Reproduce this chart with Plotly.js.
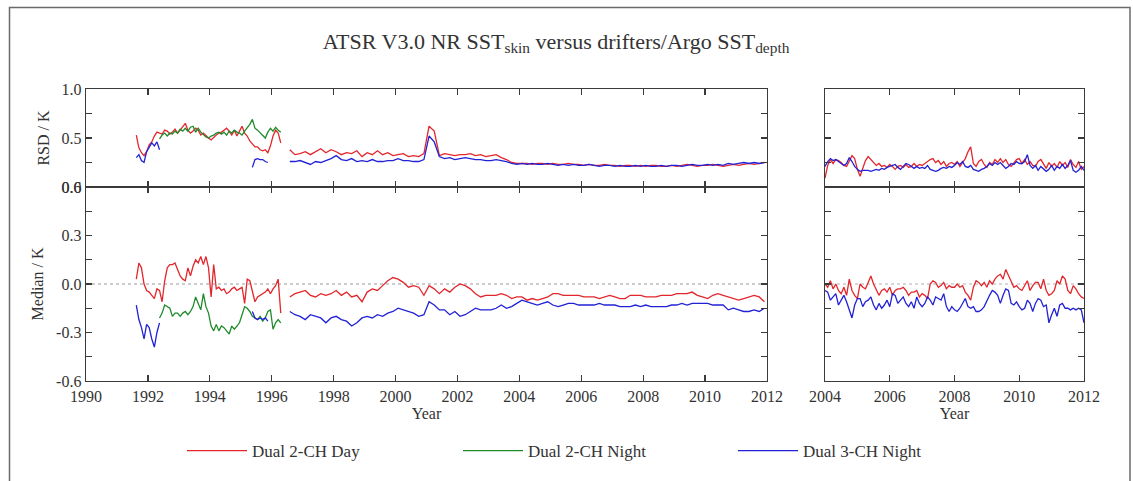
<!DOCTYPE html>
<html>
<head>
<meta charset="utf-8">
<script src="https://cdn.plot.ly/plotly-3.0.1.min.js"></script>
<style>html,body{margin:0;padding:0;background:#fff;}#chart{width:1133px;height:481px;}</style>
</head>
<body>
<div id="chart"></div>
<script>
// ---------- DATA (decimal years; values in K) ----------
// ATSR-1 era: monthly values
const atsr1Start = 1991.625;
const greenStart = 1992.375;
const blue1bStart = 1995.375;
// ATSR-2 era (left panels): bimonthly values
const atsr2Start = 1996.583;
// Right panels (2004-2012): monthly values
const rightStart = 2004.0;

const seriesNames = ["Dual 2-CH Day", "Dual 2-CH Night", "Dual 3-CH Night"];

// RSD, ATSR-1 era
const redRsdA1 = [0.53,0.40,0.35,0.32,0.36,0.43,0.46,0.52,0.56,0.55,
  0.54,0.58,0.57,0.54,0.56,0.59,0.55,0.58,0.62,0.65,
  0.58,0.55,0.57,0.60,0.58,0.53,0.55,0.52,0.50,0.48,
  0.51,0.53,0.55,0.56,0.58,0.60,0.57,0.53,0.58,0.52,
  0.57,0.62,0.55,0.52,0.47,0.44,0.41,0.41,0.38,0.37,
  0.38,0.35,0.42,0.52,0.58,0.55,0.45];
const greenRsd = [0.49,0.53,0.55,0.52,0.55,0.54,0.57,0.55,0.59,0.57,
  0.60,0.57,0.61,0.62,0.56,0.60,0.56,0.53,0.51,0.50,
  0.52,0.53,0.55,0.56,0.54,0.56,0.53,0.57,0.55,0.58,
  0.56,0.55,0.53,0.57,0.60,0.64,0.69,0.60,0.58,0.55,
  0.53,0.50,0.56,0.60,0.57,0.61,0.58,0.56];
const blueRsdA1a = [0.30,0.33,0.27,0.25,0.36,0.40,0.45,0.42,0.46,0.38];
const blueRsdA1b = [0.20,0.28,0.29,0.28,0.28,0.26,0.25];

// Median, ATSR-1 era
const redMedA1 = [0.03,0.13,0.10,0.00,-0.04,-0.05,-0.07,-0.09,-0.03,-0.04,
  -0.11,0.02,0.10,0.12,0.12,0.13,0.09,0.05,0.03,0.02,
  0.10,0.05,0.11,0.15,0.13,0.17,0.12,0.17,0.10,-0.08,
  0.12,-0.03,-0.02,-0.04,-0.03,-0.06,-0.05,-0.03,-0.02,-0.04,
  -0.03,-0.02,-0.12,0.03,0.02,-0.04,-0.11,-0.08,-0.07,-0.06,
  -0.05,-0.03,-0.06,-0.03,-0.01,0.03,-0.18];
const greenMed = [-0.21,-0.18,-0.13,-0.14,-0.15,-0.20,-0.18,-0.18,-0.20,-0.18,
  -0.17,-0.19,-0.17,-0.14,-0.08,-0.12,-0.16,-0.06,-0.14,-0.18,
  -0.26,-0.29,-0.25,-0.29,-0.26,-0.27,-0.29,-0.31,-0.26,-0.28,
  -0.26,-0.24,-0.19,-0.14,-0.15,-0.17,-0.20,-0.21,-0.22,-0.20,
  -0.23,-0.21,-0.17,-0.16,-0.28,-0.24,-0.22,-0.24];
const blueMedA1a = [-0.13,-0.22,-0.27,-0.34,-0.25,-0.27,-0.34,-0.39,-0.30,-0.24];
const blueMedA1b = [-0.17,-0.21,-0.22,-0.21,-0.22,-0.21,-0.23];

// RSD, ATSR-2/AATSR era (left panel)
const redRsdA2 = [0.38,0.33,0.34,0.36,0.33,0.36,0.39,0.35,0.38,0.36,
  0.33,0.35,0.34,0.37,0.31,0.35,0.33,0.37,0.33,0.35,
  0.32,0.33,0.34,0.31,0.32,0.31,0.34,0.62,0.57,0.32,
  0.34,0.33,0.32,0.33,0.33,0.34,0.32,0.33,0.31,0.32,
  0.33,0.30,0.28,0.25,0.24,0.24,0.24,0.23,0.24,0.24,
  0.23,0.24,0.23,0.23,0.24,0.23,0.23,0.22,0.23,0.22,
  0.22,0.23,0.22,0.22,0.21,0.22,0.22,0.21,0.22,0.21,
  0.22,0.22,0.21,0.21,0.22,0.21,0.22,0.23,0.22,0.21,
  0.22,0.22,0.23,0.22,0.21,0.22,0.23,0.22,0.23,0.24,
  0.23,0.24,0.25];
const blueRsdA2 = [0.26,0.26,0.27,0.25,0.23,0.26,0.25,0.27,0.29,0.32,
  0.28,0.27,0.29,0.26,0.27,0.26,0.28,0.26,0.26,0.27,
  0.27,0.29,0.27,0.27,0.26,0.26,0.28,0.52,0.46,0.31,
  0.29,0.30,0.28,0.29,0.30,0.29,0.28,0.28,0.27,0.27,
  0.28,0.27,0.26,0.24,0.23,0.24,0.23,0.24,0.23,0.23,
  0.24,0.23,0.22,0.23,0.22,0.23,0.22,0.22,0.23,0.22,
  0.21,0.22,0.22,0.21,0.22,0.21,0.21,0.22,0.21,0.22,
  0.21,0.21,0.22,0.21,0.22,0.22,0.21,0.22,0.23,0.22,
  0.22,0.23,0.22,0.23,0.22,0.24,0.23,0.24,0.25,0.24,
  0.25,0.24,0.25];

// Median, ATSR-2/AATSR era (left panel)
const redMedA2 = [-0.08,-0.06,-0.05,-0.04,-0.07,-0.08,-0.06,-0.07,-0.06,-0.04,
  -0.07,-0.05,-0.08,-0.07,-0.11,-0.05,-0.03,-0.04,-0.01,0.02,
  0.04,0.03,0.01,-0.02,-0.01,-0.02,-0.07,-0.01,-0.03,-0.06,
  -0.03,-0.05,-0.02,0.00,-0.01,-0.03,-0.06,-0.08,-0.07,-0.07,
  -0.07,-0.06,-0.07,-0.09,-0.08,-0.08,-0.10,-0.09,-0.10,-0.09,
  -0.08,-0.06,-0.06,-0.07,-0.07,-0.07,-0.07,-0.08,-0.08,-0.08,
  -0.09,-0.08,-0.07,-0.08,-0.09,-0.09,-0.07,-0.07,-0.07,-0.08,
  -0.08,-0.08,-0.07,-0.07,-0.07,-0.06,-0.06,-0.06,-0.05,-0.07,
  -0.08,-0.09,-0.07,-0.06,-0.07,-0.08,-0.09,-0.10,-0.09,-0.08,
  -0.07,-0.08,-0.11];
const blueMedA2 = [-0.17,-0.19,-0.20,-0.22,-0.19,-0.20,-0.21,-0.24,-0.21,-0.20,
  -0.22,-0.23,-0.26,-0.24,-0.21,-0.20,-0.21,-0.19,-0.20,-0.18,
  -0.17,-0.15,-0.16,-0.17,-0.18,-0.20,-0.19,-0.11,-0.13,-0.16,
  -0.16,-0.19,-0.17,-0.20,-0.19,-0.17,-0.15,-0.16,-0.16,-0.16,
  -0.15,-0.13,-0.15,-0.14,-0.12,-0.10,-0.11,-0.12,-0.13,-0.12,
  -0.11,-0.13,-0.14,-0.13,-0.12,-0.12,-0.13,-0.13,-0.13,-0.13,
  -0.12,-0.13,-0.13,-0.13,-0.14,-0.14,-0.14,-0.13,-0.14,-0.13,
  -0.14,-0.14,-0.14,-0.14,-0.13,-0.13,-0.12,-0.13,-0.12,-0.12,
  -0.12,-0.12,-0.13,-0.13,-0.13,-0.16,-0.15,-0.16,-0.17,-0.17,
  -0.16,-0.17,-0.15];

// Right panels, 2004-2012 monthly
const redRsdR = [0.09,0.22,0.28,0.24,0.28,0.27,0.25,0.22,0.21,0.27,
  0.32,0.29,0.18,0.11,0.20,0.27,0.31,0.28,0.24,0.22,
  0.24,0.21,0.22,0.20,0.23,0.21,0.18,0.21,0.22,0.20,
  0.23,0.20,0.21,0.24,0.21,0.23,0.22,0.24,0.26,0.28,
  0.29,0.25,0.27,0.23,0.26,0.21,0.24,0.25,0.23,0.26,
  0.21,0.25,0.29,0.36,0.41,0.24,0.21,0.26,0.28,0.23,
  0.20,0.25,0.23,0.28,0.25,0.29,0.25,0.28,0.23,0.21,
  0.25,0.28,0.29,0.24,0.28,0.23,0.26,0.22,0.21,0.26,
  0.28,0.23,0.19,0.25,0.21,0.24,0.20,0.26,0.22,0.25,
  0.20,0.28,0.23,0.20,0.26,0.18,0.21];
const blueRsdR = [0.21,0.26,0.29,0.27,0.28,0.26,0.24,0.22,0.24,0.30,
  0.26,0.21,0.18,0.16,0.17,0.17,0.17,0.16,0.17,0.18,
  0.17,0.19,0.18,0.20,0.21,0.22,0.23,0.20,0.18,0.21,
  0.24,0.23,0.21,0.19,0.21,0.19,0.20,0.19,0.22,0.18,
  0.17,0.16,0.17,0.19,0.20,0.19,0.21,0.20,0.22,0.25,
  0.23,0.26,0.21,0.20,0.22,0.18,0.17,0.16,0.18,0.19,
  0.21,0.24,0.22,0.25,0.23,0.25,0.22,0.19,0.21,0.24,
  0.23,0.26,0.24,0.24,0.26,0.33,0.22,0.19,0.22,0.17,
  0.21,0.18,0.16,0.18,0.22,0.17,0.21,0.19,0.23,0.19,
  0.22,0.27,0.17,0.15,0.17,0.21,0.17];
const redMedR = [0.00,-0.02,0.02,-0.03,0.00,-0.04,-0.06,-0.02,-0.07,0.03,
  -0.04,-0.07,-0.09,0.00,-0.02,-0.03,0.01,0.05,0.00,-0.04,
  -0.07,-0.04,-0.03,-0.05,-0.02,-0.07,-0.04,-0.03,-0.03,-0.02,
  -0.04,-0.07,-0.05,-0.05,-0.04,-0.08,-0.06,-0.07,-0.09,0.00,
  0.02,0.01,-0.02,-0.01,0.01,-0.03,-0.01,-0.02,-0.02,0.00,
  -0.02,-0.01,-0.05,-0.07,-0.10,-0.02,0.02,0.01,-0.01,0.01,
  -0.02,0.02,0.00,0.03,0.05,0.06,0.03,0.09,0.05,0.01,
  -0.02,-0.01,-0.03,-0.04,-0.01,0.02,-0.04,-0.01,0.01,0.01,
  -0.03,0.03,-0.04,-0.07,-0.06,-0.04,0.02,0.00,0.05,0.03,
  -0.04,-0.06,-0.01,-0.03,-0.06,-0.08,-0.09];
const blueMedR = [-0.04,-0.05,-0.10,-0.08,-0.06,-0.13,-0.10,-0.07,-0.11,-0.16,
  -0.21,-0.13,-0.09,-0.09,-0.14,-0.11,-0.10,-0.08,-0.13,-0.16,
  -0.12,-0.15,-0.13,-0.10,-0.14,-0.06,-0.07,-0.12,-0.10,-0.08,
  -0.12,-0.14,-0.11,-0.15,-0.08,-0.12,-0.14,-0.12,-0.08,-0.10,
  -0.13,-0.08,-0.09,-0.10,-0.06,-0.14,-0.17,-0.14,-0.16,-0.17,
  -0.15,-0.12,-0.09,-0.14,-0.15,-0.14,-0.17,-0.17,-0.16,-0.14,
  -0.10,-0.07,-0.04,-0.05,-0.07,-0.12,-0.07,-0.03,-0.04,-0.12,
  -0.13,-0.11,-0.14,-0.16,-0.15,-0.10,-0.12,-0.17,-0.12,-0.09,
  -0.10,-0.14,-0.13,-0.24,-0.19,-0.15,-0.20,-0.13,-0.12,-0.15,
  -0.15,-0.16,-0.15,-0.16,-0.15,-0.16,-0.24];

// Tick labels
const leftYearTicks = [1990,1992,1994,1996,1998,2000,2002,2004,2006,2008,2010,2012];
const rightYearTicks = [2004,2006,2008,2010,2012];
const rsdTickVals = [0,0.25,0.5,0.75,1.0];
const rsdTickText = ["0.0","","0.5","","1.0"];
const medTickVals = [-0.6,-0.45,-0.3,-0.15,0,0.15,0.3,0.45,0.6];
const medTickText = ["-0.6","","-0.3","","0.0","","0.3","","0.6"];

// ---------- BUILD ----------
function build(segments){
  const x=[], y=[];
  segments.forEach((s,si)=>{
    const start=s[0], stepMonths=s[1], vals=s[2];
    if(si>0){ x.push(null); y.push(null); }
    vals.forEach((v,i)=>{ x.push(+(start + i*stepMonths/12).toFixed(4)); y.push(v); });
  });
  return {x,y};
}
const RED='#e3262b', GREEN='#1f8a2a', BLUE='#2121d6';
const LW=1.3;
function tr(d, color, xa, ya, name, legend){
  return {type:'scatter', mode:'lines', x:d.x, y:d.y, xaxis:xa, yaxis:ya,
    line:{color:color, width:LW}, connectgaps:false, name:name,
    showlegend:!!legend, legend:legend||'legend', hoverinfo:'skip'};
}
const traces = [
  // top-left RSD
  tr(build([[atsr1Start,1,redRsdA1],[atsr2Start,2,redRsdA2]]), RED,'x2','y2'),
  tr(build([[greenStart,1,greenRsd]]), GREEN,'x2','y2'),
  tr(build([[atsr1Start,1,blueRsdA1a],[blue1bStart,1,blueRsdA1b],[atsr2Start,2,blueRsdA2]]), BLUE,'x2','y2'),
  // bottom-left median
  tr(build([[atsr1Start,1,redMedA1],[atsr2Start,2,redMedA2]]), RED,'x','y', seriesNames[0],'legend'),
  tr(build([[greenStart,1,greenMed]]), GREEN,'x','y', seriesNames[1],'legend2'),
  tr(build([[atsr1Start,1,blueMedA1a],[blue1bStart,1,blueMedA1b],[atsr2Start,2,blueMedA2]]), BLUE,'x','y', seriesNames[2],'legend3'),
  // top-right RSD
  tr(build([[rightStart,1,redRsdR]]), RED,'x4','y4'),
  tr(build([[rightStart,1,blueRsdR]]), BLUE,'x4','y4'),
  // bottom-right median
  tr(build([[rightStart,1,redMedR]]), RED,'x3','y3'),
  tr(build([[rightStart,1,blueMedR]]), BLUE,'x3','y3'),
];

// ---------- LAYOUT ----------
const FONT='Liberation Serif, Times New Roman, serif';
const AX='#3a3a3a';
const base = {showline:true, linecolor:AX, linewidth:1.4, mirror:'allticks', ticks:'inside',
  ticklen:6, tickwidth:1.2, tickcolor:AX, showgrid:false, zeroline:false,
  tickfont:{family:FONT, size:16, color:'#333'}, fixedrange:true};
const L=[86,767], R=[825,1084], TOP=[89,187], BOT=[187,381];
const PL=86, PR=1084, PT=89, PB=381, W=PR-PL, H=PB-PT;
const dx=(a)=>[(a[0]-PL)/W,(a[1]-PL)/W];
const dy=(a)=>[(PB-a[1])/H,(PB-a[0])/H];
const px=(v)=>(v-PL)/W, py=(v)=>(PB-v)/H;

const layout = {
  width:1133, height:481,
  margin:{l:PL, r:1133-PR, t:PT, b:481-PB},
  paper_bgcolor:'#fff', plot_bgcolor:'rgba(0,0,0,0)',
  font:{family:FONT, color:'#333'},
  title:{text:'ATSR V3.0 NR SST<sub>skin</sub> versus drifters/Argo SST<sub>depth</sub>',
    font:{family:FONT, size:22, color:'#333'}, x:556/1133, xanchor:'center', y:1-41/481, yanchor:'middle'},
  xaxis: Object.assign({}, base, {domain:dx(L), anchor:'y', range:[1990,2012], tickvals:leftYearTicks,
    title:{text:'Year', font:{family:FONT,size:16,color:'#333'}, standoff:2}}),
  yaxis: Object.assign({}, base, {domain:dy(BOT), anchor:'x', range:[-0.6,0.6], tickvals:medTickVals, ticktext:medTickText,
    title:{text:'Median / K', font:{family:FONT,size:16,color:'#333'}, standoff:8}}),
  xaxis2: Object.assign({}, base, {domain:dx(L), anchor:'y2', range:[1990,2012], tickvals:leftYearTicks, showticklabels:false}),
  yaxis2: Object.assign({}, base, {domain:dy(TOP), anchor:'x2', range:[0,1], tickvals:rsdTickVals, ticktext:rsdTickText,
    title:{text:'RSD / K', font:{family:FONT,size:16,color:'#333'}, standoff:8}}),
  xaxis3: Object.assign({}, base, {domain:dx(R), anchor:'y3', range:[2004,2012], tickvals:rightYearTicks,
    title:{text:'Year', font:{family:FONT,size:16,color:'#333'}, standoff:2}}),
  yaxis3: Object.assign({}, base, {domain:dy(BOT), anchor:'x3', range:[-0.6,0.6], tickvals:medTickVals, showticklabels:false}),
  xaxis4: Object.assign({}, base, {domain:dx(R), anchor:'y4', range:[2004,2012], tickvals:rightYearTicks, showticklabels:false}),
  yaxis4: Object.assign({}, base, {domain:dy(TOP), anchor:'x4', range:[0,1], tickvals:rsdTickVals, showticklabels:false}),
  legend: {x:px(182), y:py(451), xanchor:'left', yanchor:'middle', orientation:'h', bgcolor:'rgba(0,0,0,0)',
    font:{family:FONT,size:17,color:'#333'}, itemwidth:60},
  legend2: {x:px(458), y:py(451), xanchor:'left', yanchor:'middle', orientation:'h', bgcolor:'rgba(0,0,0,0)',
    font:{family:FONT,size:17,color:'#333'}, itemwidth:60},
  legend3: {x:px(733), y:py(451), xanchor:'left', yanchor:'middle', orientation:'h', bgcolor:'rgba(0,0,0,0)',
    font:{family:FONT,size:17,color:'#333'}, itemwidth:60},
  shapes: [
    {type:'line', xref:'x domain', yref:'y', x0:0, x1:1, y0:0, y1:0, line:{color:'#9a9a9a', width:1, dash:'dot'}, layer:'below'},
    {type:'line', xref:'x3 domain', yref:'y3', x0:0, x1:1, y0:0, y1:0, line:{color:'#b0b0b0', width:1, dash:'dot'}, layer:'below'},
    {type:'path', xref:'paper', yref:'paper',
      path:`M ${px(9.5)},${py(481)} L ${px(9.5)},${py(7.5)} L ${px(1130)},${py(7.5)} L ${px(1130)},${py(481)}`,
      line:{color:'#6a6a6a', width:1.5}}
  ]
};

Plotly.newPlot('chart', traces, layout, {staticPlot:true, displayModeBar:false});
</script>
</body>
</html>
